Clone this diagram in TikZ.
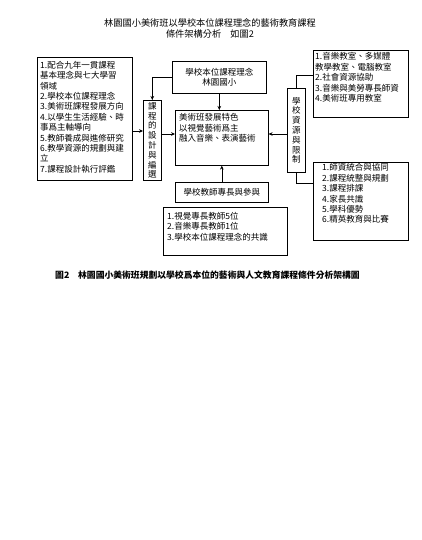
\documentclass[tikz,border=0pt]{standalone}
\usepackage{fontspec}
\setmainfont{Noto Sans CJK TC}
\usetikzlibrary{arrows.meta,calc}
\begin{document}
\begin{tikzpicture}[x=1pt,y=-1pt,
  box/.style={draw,line width=0.6pt,inner sep=0pt,anchor=north west},
  txt/.style={inner sep=0pt,anchor=north west,align=left,font=\fontsize{8.5}{10.4}\selectfont},
  ctxt/.style={inner sep=0pt,align=center,font=\fontsize{8.5}{10.4}\selectfont},
  vtxt/.style={inner sep=0pt,align=center,font=\fontsize{8.5}{9.8}\selectfont},
  arr/.style={line width=0.6pt,-{Stealth[length=4pt,width=3.6pt]}},
  ln/.style={line width=0.6pt}]
\fill[white] (0,0) rectangle (421,540);
\useasboundingbox (0,0) rectangle (421,540);
% title
\node[inner sep=0pt,align=center,font=\fontsize{9.2}{11}\selectfont] (title) at (210,28.5)
  {林園國小美術班以學校本位課程理念的藝術教育課程\\條件架構分析\quad 如圖2};
% left box
\node[box,minimum width=95pt,minimum height=123pt] (L) at (37,57) {};
\node[txt] (Lt) at (40,61) {1.配合九年一貫課程\\基本理念與七大學習\\領域\\2.學校本位課程理念\\3.美術班課程發展方向\\4.以學生生活經驗、時\\事爲主軸導向\\5.教師養成與進修研究\\6.教學資源的規劃與建\\立\\7.課程設計執行評鑑};
% vertical box 1
\node[box,minimum width=18pt,minimum height=80pt] (V1) at (143,100) {};
\node[vtxt] (V1t) at (V1.center) {課\\程\\的\\設\\計\\與\\編\\選};
% top box
\node[box,minimum width=94pt,minimum height=32pt] (T) at (172,61) {};
\node[ctxt] (Tt) at (T.center) {學校本位課程理念\\林園國小};
% center box
\node[box,minimum width=93pt,minimum height=55pt] (C) at (175,110) {};
\node[txt] (Ct) at (179,113.5) {美術班發展特色\\以視覺藝術爲主\\融入音樂、表演藝術};
% bottom small box
\node[box,minimum width=93pt,minimum height=20pt] (B) at (175,182) {};
\node[ctxt] (Bt) at (B.center) {學校教師專長與參與};
% bottom 3-line box
\node[box,minimum width=124pt,minimum height=48pt] (B2) at (163,207) {};
\node[txt] (B2t) at (167,212) {1.視覺專長教師5位\\2.音樂專長教師1位\\3.學校本位課程理念的共識};
% right vertical box
\node[box,minimum width=18pt,minimum height=84pt] (V2) at (287,88) {};
\node[vtxt] (V2t) at (V2.center) {學\\校\\資\\源\\與\\限\\制};
% right top box
\node[box,minimum width=95pt,minimum height=67pt] (RT) at (313,50) {};
\node[txt] (RTt) at (315,52.5) {1.音樂教室、多媒體\\教學教室、電腦教室\\2.社會資源協助\\3.音樂與美勞專長師資\\4.美術班專用教室};
% right bottom box
\node[box,minimum width=95pt,minimum height=78pt] (RB) at (313,162) {};
\node[txt] (RBt) at (322,163.5) {1.師資統合與協同\\2.課程統整與規劃\\3.課程排課\\4.家長共識\\5.學科優勢\\6.精英教育與比賽};
% caption
\node[inner sep=0pt,anchor=west,font=\fontsize{8.8}{10}\selectfont\bfseries] (cap) at (55,275)
  {圖2\quad 林園國小美術班規劃以學校爲本位的藝術與人文教育課程條件分析架構圖};
% connectors
\draw[arr] (L.east |- 0,131) -- (V1.west |- 0,131);
\draw[arr] (T.west) -| (V1.north);
\draw[arr] (T.south) -- (T.south |- C.north);
\draw[arr] (V1.east |- 0,134) -- (C.west |- 0,134);
\draw[arr] (V2.west |- 0,134) -- (C.east |- 0,134);
\draw[arr] (B.north) -- (C.south);
\draw[ln] (V2.north) |- (RT.west |- 0,75);
\draw[ln] (V2.south) |- (RB.west |- 0,183);
\end{tikzpicture}
\end{document}
